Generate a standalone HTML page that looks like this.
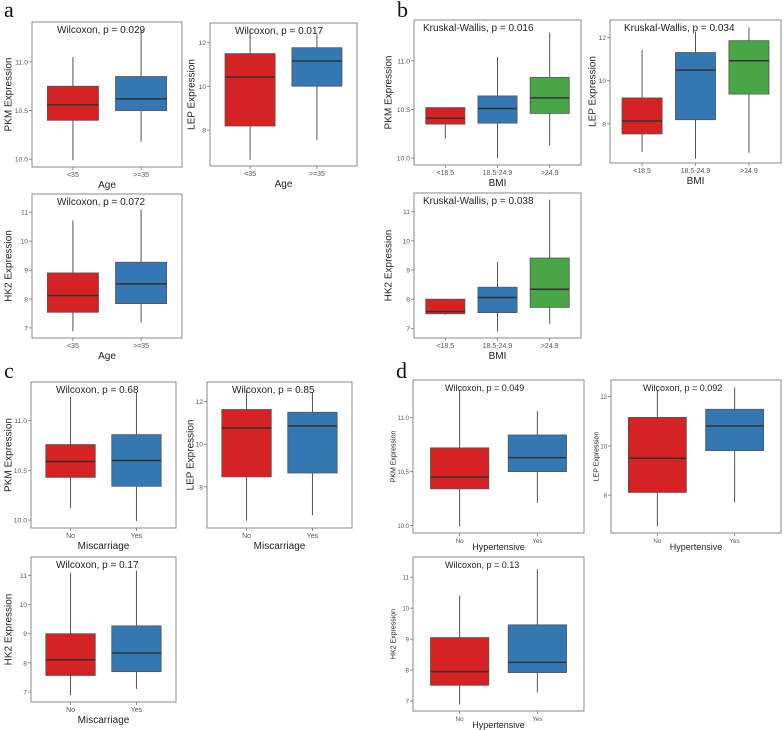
<!DOCTYPE html>
<html><head><meta charset="utf-8"><style>
html,body{margin:0;padding:0;background:#fff;}
svg{display:block;font-family:"Liberation Sans",sans-serif;}
.lt{font-family:"Liberation Serif",serif;font-size:22px;fill:#111;}
</style></head><body>
<svg id="fig" width="784" height="730" viewBox="0 0 784 730">
<text class="lt" x="4" y="17">a</text>
<text class="lt" x="397" y="17">b</text>
<text class="lt" x="4" y="378">c</text>
<text class="lt" x="396" y="378">d</text>
</svg>
<script>
// ---- data: categories ----
const catAge = ["<35", ">=35"];
const catBMI = ["<18.5", "18.5-24.9", ">24.9"];
const catMis = ["No", "Yes"];
const catHyp = ["No", "Yes"];
// ---- data: box stats [low, q1, median, q3, high] per category ----
const pkmAge = [[9.99,10.40,10.56,10.75,11.05],[10.18,10.50,10.62,10.85,11.33]];
const lepAge = [[6.64,8.19,10.43,11.5,12.56],[7.55,10.01,11.16,11.77,12.38]];
const hk2Age = [[6.88,7.54,8.12,8.90,10.72],[7.19,7.84,8.52,9.27,11.09]];
const pkmBMI = [[10.2,10.35,10.41,10.52,10.52],[10.0,10.36,10.51,10.64,11.04],[10.13,10.46,10.62,10.83,11.29]];
const lepBMI = [[6.69,7.53,8.13,9.2,11.43],[6.38,8.19,10.49,11.31,12.28],[6.65,9.38,10.93,11.86,12.47]];
const hk2BMI = [[7.46,7.5,7.58,8.0,8.0],[6.89,7.54,8.06,8.41,9.27],[7.15,7.72,8.34,9.41,11.41]];
const pkmMis = [[10.12,10.43,10.59,10.76,11.24],[9.99,10.34,10.6,10.86,11.28]];
const lepMis = [[6.41,8.47,10.76,11.63,12.53],[6.66,8.65,10.86,11.5,12.45]];
const hk2Mis = [[6.89,7.57,8.11,9.0,11.09],[7.11,7.7,8.34,9.27,11.16]];
const pkmHyp = [[9.99,10.34,10.45,10.72,11.26],[10.21,10.5,10.63,10.84,11.06]];
const lepHyp = [[6.73,8.11,9.5,11.16,12.27],[7.7,9.81,10.81,11.49,12.38]];
const hk2Hyp = [[6.89,7.51,7.95,9.05,10.4],[7.28,7.92,8.25,9.46,11.26]];
// ---- tick labels ----
const ticksPKM = [10.0, 10.5, 11.0];
const ticksLEP = [8, 10, 12];
const ticksHK2 = [7, 8, 9, 10, 11];
// ---- annotations ----
const pvals = ["Wilcoxon, p = 0.029","Wilcoxon, p = 0.017","Wilcoxon, p = 0.072",
 "Kruskal-Wallis, p = 0.016","Kruskal-Wallis, p = 0.034","Kruskal-Wallis, p = 0.038",
 "Wilcoxon, p = 0.68","Wilcoxon, p = 0.85","Wilcoxon, p = 0.17",
 "Wilcoxon, p = 0.049","Wilcoxon, p = 0.092","Wilcoxon, p = 0.13"];

const colors = ["#d62222","#3478b3","#48a646"];
const NS = "http://www.w3.org/2000/svg";
const svg = document.getElementById("fig");
function el(tag, attrs, parent){ const e=document.createElementNS(NS,tag); for(const k in attrs) e.setAttribute(k,attrs[k]); (parent||svg).appendChild(e); return e; }

// layout (geometry only)
const panels = [
 {id:"a-pkm",x:32,y:22,w:150,h:145,dom:[9.92,11.41],ticks:ticksPKM,fmt:1,cats:catAge,data:pkmAge,yt:"PKM Expression",xt:"Age",p:0,tx:25,ytx:8,small:false},
 {id:"a-lep",x:210,y:23,w:147,h:143,dom:[6.36,12.9],ticks:ticksLEP,fmt:0,cats:catAge,data:lepAge,yt:"LEP Expression",xt:"Age",p:1,tx:25,ytx:191,small:false},
 {id:"a-hk2",x:32,y:194,w:150,h:144,dom:[6.65,11.63],ticks:ticksHK2,fmt:0,cats:catAge,data:hk2Age,yt:"HK2 Expression",xt:"Age",p:2,tx:25,ytx:8,small:false},
 {id:"b-pkm",x:414,y:20,w:167,h:145,dom:[9.93,11.42],ticks:ticksPKM,fmt:1,cats:catBMI,data:pkmBMI,yt:"PKM Expression",xt:"BMI",p:3,tx:9,ytx:388,small:false},
 {id:"b-lep",x:610,y:20,w:171,h:143,dom:[6.18,12.82],ticks:ticksLEP,fmt:0,cats:catBMI,data:lepBMI,yt:"LEP Expression",xt:"BMI",p:4,tx:14,ytx:592,small:false},
 {id:"b-hk2",x:414,y:193,w:167,h:145,dom:[6.67,11.64],ticks:ticksHK2,fmt:0,cats:catBMI,data:hk2BMI,yt:"HK2 Expression",xt:"BMI",p:5,tx:9,ytx:388,small:false},
 {id:"c-pkm",x:31,y:382,w:145,h:146,dom:[9.92,11.39],ticks:ticksPKM,fmt:1,cats:catMis,data:pkmMis,yt:"PKM Expression",xt:"Miscarriage",p:6,tx:25,ytx:8,small:false},
 {id:"c-lep",x:207,y:382,w:145,h:146,dom:[6.07,12.92],ticks:ticksLEP,fmt:0,cats:catMis,data:lepMis,yt:"LEP Expression",xt:"Miscarriage",p:7,tx:25,ytx:190,small:false},
 {id:"c-hk2",x:31,y:557,w:145,h:145,dom:[6.66,11.63],ticks:ticksHK2,fmt:0,cats:catMis,data:hk2Mis,yt:"HK2 Expression",xt:"Miscarriage",p:8,tx:25,ytx:8,small:false},
 {id:"d-pkm",x:413,y:380,w:171,h:153,dom:[9.93,11.35],ticks:ticksPKM,fmt:1,cats:catHyp,data:pkmHyp,yt:"PKM Expression",xt:"Hypertensive",p:9,tx:32,ytx:393,small:true},
 {id:"d-lep",x:611,y:380,w:170,h:153,dom:[6.46,12.68],ticks:ticksLEP,fmt:0,cats:catHyp,data:lepHyp,yt:"LEP Expression",xt:"Hypertensive",p:10,tx:32,ytx:596,small:true},
 {id:"d-hk2",x:413,y:557,w:171,h:154,dom:[6.68,11.65],ticks:ticksHK2,fmt:0,cats:catHyp,data:hk2Hyp,yt:"HK2 Expression",xt:"Hypertensive",p:11,tx:32,ytx:393,small:true}
];

panels.forEach(P=>{
  const g = el("g",{});
  
  
  const yS = v => P.y + P.h - (v - P.dom[0]) / (P.dom[1]-P.dom[0]) * P.h;
  const n = P.cats.length;
  const xS = i => P.x + (i + 0.6) / (n + 0.2) * P.w;
  const bw = 0.75 / (n + 0.2) * P.w;
  const fr = el("rect",{x:P.x,y:P.y,width:P.w,height:P.h,fill:"#fff",stroke:"#8a8a8a","stroke-width":1},g);
  
  
  P.ticks.forEach(t=>{
    const yy = yS(t);
    el("line",{x1:P.x-3,x2:P.x,y1:yy,y2:yy,stroke:"#777","stroke-width":0.8},g);
    const tl = el("text",{x:P.x-4,y:yy+2.5,"text-anchor":"end","font-size":P.small?6:6.8,fill:"#555"},g);
    tl.textContent = t.toFixed(P.fmt);
    
    
  });
  P.data.forEach((d,i)=>{
    const cx = xS(i);
    el("line",{x1:cx,x2:cx,y1:P.y+P.h,y2:P.y+P.h+3,stroke:"#777","stroke-width":0.8},g);
    const wh = el("line",{x1:cx,x2:cx,y1:yS(d[4]),y2:yS(d[0]),stroke:"#555","stroke-width":1},g);
    
    
    const bx = el("rect",{x:cx-bw/2,y:yS(d[3]),width:bw,height:yS(d[1])-yS(d[3]),fill:colors[i],stroke:"#555","stroke-width":0.8},g);
    
    
    const md = el("line",{x1:cx-bw/2,x2:cx+bw/2,y1:yS(d[2]),y2:yS(d[2]),stroke:"#333","stroke-width":1.5},g);
    
    
    const xl = el("text",{x:cx,y:P.y+P.h+10,"text-anchor":"middle","font-size":P.small?6.3:7,fill:"#555"},g);
    xl.textContent = P.cats[i];
    
    
  });
  const an = el("text",{x:P.x+P.tx,y:P.y+11,"font-size":P.small?9:10,fill:"#222"},g);
  an.textContent = pvals[P.p];
  
  
  const xt = el("text",{x:P.x+P.w/2,y:P.y+P.h+(P.small?17:21),"text-anchor":"middle","font-size":P.small?9:10,fill:"#222"},g);
  xt.textContent = P.xt;
  
  
  const cy = P.y + P.h/2;
  const yt = el("text",{x:P.ytx,y:cy,"text-anchor":"middle","font-size":P.small?7:10,fill:"#222",transform:"rotate(-90 "+(P.ytx)+" "+cy+")",dy:"0.35em"},g);
  yt.textContent = P.yt;
  
  
});
</script>
</body></html>
